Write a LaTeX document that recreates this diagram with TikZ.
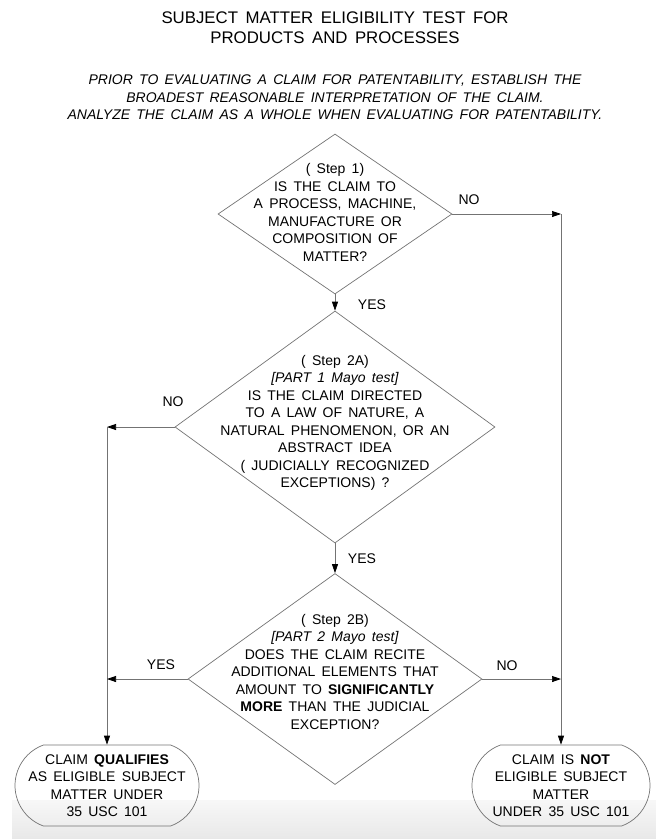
\documentclass[tikz,border=0pt]{standalone}
\usepackage{fontspec}
\setmainfont[WordSpace=1.6]{Liberation Sans}
\usetikzlibrary{arrows.meta,shapes.geometric,shapes.misc}
\colorlet{FlowGray}{black!55}
\tikzset{dia/.style={diamond,draw=FlowGray,line width=.7pt,inner sep=0pt},endbox/.style={rounded rectangle,rounded rectangle arc length=140,draw=FlowGray,line width=.7pt,align=center,minimum height=81pt,inner sep=2pt,font=\fontsize{14}{17.5}\selectfont},qtext/.style={align=center,font=\fontsize{14}{17.5}\selectfont},lbl/.style={font=\fontsize{14}{17}\selectfont},arr/.style={-{Triangle[length=9pt,width=6pt,fill=black,color=black]},draw=FlowGray,line width=.7pt}}

\begin{document}
\begin{tikzpicture}[x=1pt,y=-1pt]
\useasboundingbox (0,0) rectangle (656,839);
\shade[top color=black!3,bottom color=black!9] (12,800) rectangle (656,839);
\node[align=center,font=\fontsize{16.8}{20}\selectfont] (title) at (335,28) {SUBJECT MATTER ELIGIBILITY TEST FOR\\PRODUCTS AND PROCESSES};
\node[align=center,font=\fontsize{14}{17.5}\selectfont\itshape] (intro) at (335,97.5) {PRIOR TO EVALUATING A CLAIM FOR PATENTABILITY, ESTABLISH THE\\BROADEST REASONABLE INTERPRETATION OF THE CLAIM.\\ANALYZE THE CLAIM AS A WHOLE WHEN EVALUATING FOR PATENTABILITY.};
\node[dia,minimum width=234pt,minimum height=160pt] (d1) at (335,214) {};
\node[qtext] (q1) at (335,212.5) {( Step 1)\\IS THE CLAIM TO\\A PROCESS, MACHINE,\\MANUFACTURE OR\\COMPOSITION OF\\MATTER?};
\node[dia,minimum width=320pt,minimum height=232pt] (d2) at (335,427) {};
\node[qtext] (q2) at (335,423) {( Step 2A)\\\textit{[PART 1 Mayo test]}\\IS THE CLAIM DIRECTED\\TO A LAW OF NATURE, A\\NATURAL PHENOMENON, OR AN\\ABSTRACT IDEA\\( JUDICIALLY RECOGNIZED\\EXCEPTIONS) ?};
\node[dia,minimum width=294pt,minimum height=211pt] (d3) at (335,679) {};
\node[qtext] (q3) at (335,671.5) {( Step 2B)\\\textit{[PART 2 Mayo test]}\\DOES THE CLAIM RECITE\\ADDITIONAL ELEMENTS THAT\\AMOUNT TO \textbf{SIGNIFICANTLY}\\\textbf{MORE} THAN THE JUDICIAL\\EXCEPTION?};
\node[endbox,minimum width=188pt] (eligible) at (107,785.5) {CLAIM \textbf{QUALIFIES}\\AS ELIGIBLE SUBJECT\\MATTER UNDER\\35 USC 101};
\node[endbox,minimum width=182pt] (noteligible) at (561,785.5) {CLAIM IS \textbf{NOT}\\ELIGIBLE SUBJECT\\MATTER\\UNDER 35 USC 101};
\coordinate (r1) at (noteligible.north |- d1.east);
\coordinate (r3) at (noteligible.north |- d3.east);
\coordinate (l2) at (eligible.north |- d2.west);
\coordinate (l3) at (eligible.north |- d3.west);
\draw[arr] (d1.south) -- (d2.north);
\draw[arr] (d2.south) -- (d3.north);
\draw[arr] (d1.east) -- (r1);
\draw[arr] (r1) -- (noteligible.north);
\draw[arr] (d3.east) -- (r3);
\draw[arr] (d2.west) -- (l2);
\draw[arr] (l2) -- (eligible.north);
\draw[arr] (d3.west) -- (l3);
\node[lbl] (no1) at (469,200) {NO};
\node[lbl] (yes1) at (372,305) {YES};
\node[lbl] (no2) at (173,402) {NO};
\node[lbl] (yes2) at (362,559) {YES};
\node[lbl] (yes3) at (161,665) {YES};
\node[lbl] (no3) at (507,666) {NO};
\end{tikzpicture}
\end{document}
